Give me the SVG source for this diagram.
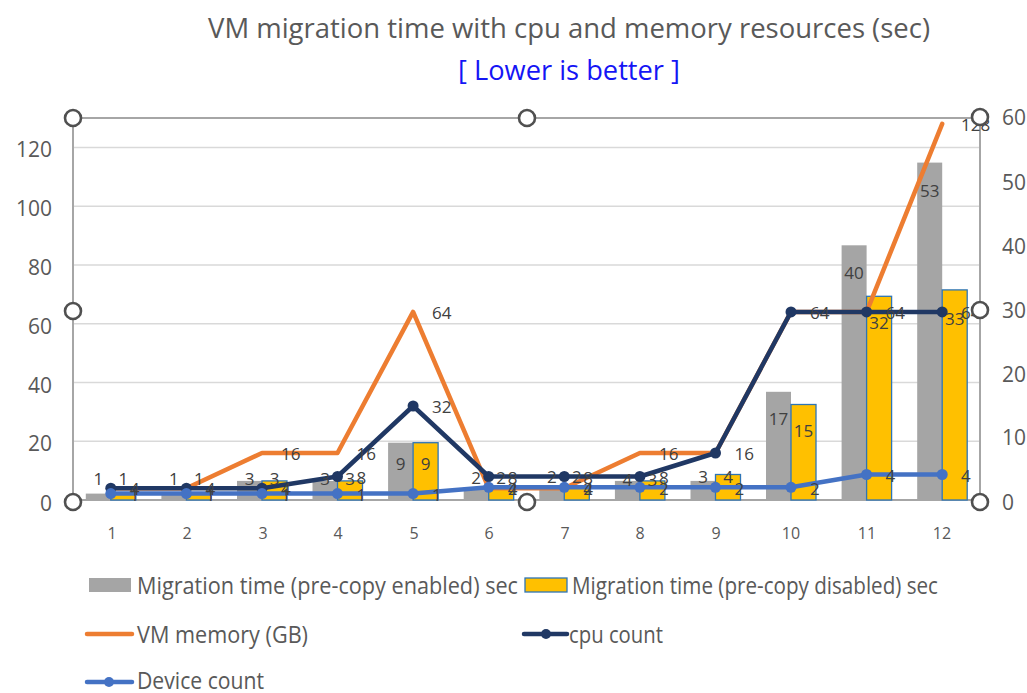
<svg xmlns="http://www.w3.org/2000/svg" width="1027" height="693" viewBox="0 0 1027 693">
  <style>
    .t { font-family: "Open Sans", "Liberation Sans", sans-serif; }
    .title { font-size: 28px; fill: #595959; }
    .sub { font-size: 28px; fill: #1515F5; }
    .tick { font-size: 21px; fill: #595959; }
    .xtick { font-size: 16px; fill: #595959; }
    .lbl { font-size: 17px; fill: #404040; dominant-baseline: central; text-anchor: middle; }
    .lbs { font-size: 17px; fill: #404040; dominant-baseline: central; }
    .leg { font-size: 23px; fill: #595959; dominant-baseline: central; }
    .grid { stroke: #D9D9D9; stroke-width: 1.5; }
    .axis { stroke: #A6A6A6; stroke-width: 2; fill: none; }
    .gbar { fill: #A5A5A5; }
    .ybar { fill: #FFC000; stroke: #2E75B6; stroke-width: 1.3; }
    .mem { fill: none; stroke: #ED7D31; stroke-width: 4.5; stroke-linejoin: round; stroke-linecap: round; }
    .cpu { fill: none; stroke: #203864; stroke-width: 4.5; stroke-linejoin: round; stroke-linecap: round; }
    .dev { fill: none; stroke: #4472C4; stroke-width: 4.5; stroke-linejoin: round; stroke-linecap: round; }
    .cpuM { fill: #203864; }
    .devM { fill: #4472C4; }
    .handle { fill: #FFFFFF; stroke: #505050; stroke-width: 2.6; }
  </style>

  <!-- titles -->
  <g id="title">
    <text class="t title" x="208" y="38" textLength="722" lengthAdjust="spacingAndGlyphs">VM migration time with cpu and memory resources (sec)</text>
    <text class="t sub" x="458" y="80" textLength="222" lengthAdjust="spacingAndGlyphs">[ Lower is better ]</text>
  </g>

  <!-- plot frame and gridlines -->
  <g id="plot-area">
    <line class="grid" x1="73" y1="441.2" x2="980" y2="441.2"/>
    <line class="grid" x1="73" y1="382.5" x2="980" y2="382.5"/>
    <line class="grid" x1="73" y1="323.7" x2="980" y2="323.7"/>
    <line class="grid" x1="73" y1="264.9" x2="980" y2="264.9"/>
    <line class="grid" x1="73" y1="206.2" x2="980" y2="206.2"/>
    <line class="grid" x1="73" y1="147.4" x2="980" y2="147.4"/>
    <line class="axis" x1="73" y1="118" x2="980" y2="118"/>
    <line class="axis" x1="73" y1="118" x2="73" y2="501"/>
    <line class="axis" x1="980" y1="118" x2="980" y2="501"/>
    <line class="axis" x1="73" y1="500" x2="980" y2="500"/>
  </g>

  <!-- left axis ticks -->
  <g id="left-axis" class="t tick" text-anchor="end" dominant-baseline="central">
    <text x="52" y="503">0</text>
    <text x="52" y="443">20</text>
    <text x="52" y="385">40</text>
    <text x="52" y="326">60</text>
    <text x="52" y="267">80</text>
    <text x="52" y="208">100</text>
    <text x="52" y="149">120</text>
  </g>

  <!-- right axis ticks -->
  <g id="right-axis" class="t tick" dominant-baseline="central">
    <text x="1002" y="502">0</text>
    <text x="1002" y="437">10</text>
    <text x="1002" y="374">20</text>
    <text x="1002" y="310">30</text>
    <text x="1002" y="246">40</text>
    <text x="1002" y="182">50</text>
    <text x="1002" y="117">60</text>
  </g>

  <!-- category axis -->
  <g id="category-axis" class="t xtick" text-anchor="middle">
    <text x="112" y="539">1</text>
    <text x="187" y="539">2</text>
    <text x="263" y="539">3</text>
    <text x="338" y="539">4</text>
    <text x="414" y="539">5</text>
    <text x="489" y="539">6</text>
    <text x="565" y="539">7</text>
    <text x="640" y="539">8</text>
    <text x="716" y="539">9</text>
    <text x="791" y="539">10</text>
    <text x="867" y="539">11</text>
    <text x="942" y="539">12</text>
  </g>

  <!-- Migration time (pre-copy enabled) -->
  <g id="bars-enabled" class="gbar">
    <rect x="85.8" y="493.6" width="25" height="6.4"/>
    <rect x="161.4" y="493.6" width="25" height="6.4"/>
    <rect x="237.0" y="480.9" width="25" height="19.1"/>
    <rect x="312.5" y="480.9" width="25" height="19.1"/>
    <rect x="388.1" y="442.7" width="25" height="57.3"/>
    <rect x="463.7" y="487.3" width="25" height="12.7"/>
    <rect x="539.3" y="487.3" width="25" height="12.7"/>
    <rect x="614.9" y="480.9" width="25" height="19.1"/>
    <rect x="690.5" y="480.9" width="25" height="19.1"/>
    <rect x="766.0" y="391.8" width="25" height="108.2"/>
    <rect x="841.6" y="245.3" width="25" height="254.7"/>
    <rect x="917.2" y="162.6" width="25" height="337.4"/>
  </g>

  <!-- Migration time (pre-copy disabled) -->
  <g id="bars-disabled" class="ybar">
    <rect x="110.8" y="493.6" width="25" height="6.4"/>
    <rect x="186.4" y="493.6" width="25" height="6.4"/>
    <rect x="262.0" y="480.9" width="25" height="19.1"/>
    <rect x="337.5" y="480.9" width="25" height="19.1"/>
    <rect x="413.1" y="442.7" width="25" height="57.3"/>
    <rect x="488.7" y="487.3" width="25" height="12.7"/>
    <rect x="564.3" y="487.3" width="25" height="12.7"/>
    <rect x="639.9" y="480.9" width="25" height="19.1"/>
    <rect x="715.5" y="474.5" width="25" height="25.5"/>
    <rect x="791.0" y="404.5" width="25" height="95.5"/>
    <rect x="866.6" y="296.3" width="25" height="203.7"/>
    <rect x="942.2" y="289.9" width="25" height="210.1"/>
  </g>

  <!-- line series -->
  <g id="connectors">
    <polyline id="vm-memory" class="mem" points="110.8,488.2 186.4,488.2 262.0,453.0 337.5,453.0 413.1,311.9 488.7,488.2 564.3,488.2 639.9,453.0 715.5,453.0 791.0,311.9 866.6,311.9 942.2,123.9"/>
    <polyline id="cpu-count" class="cpu" points="110.8,488.2 186.4,488.2 262.0,488.2 337.5,476.5 413.1,406.0 488.7,476.5 564.3,476.5 639.9,476.5 715.5,453.0 791.0,311.9 866.6,311.9 942.2,311.9"/>
    <g class="cpuM">
      <circle cx="110.8" cy="488.2" r="5.5"/>
      <circle cx="186.4" cy="488.2" r="5.5"/>
      <circle cx="262.0" cy="488.2" r="5.5"/>
      <circle cx="337.5" cy="476.5" r="5.5"/>
      <circle cx="413.1" cy="406.0" r="5.5"/>
      <circle cx="488.7" cy="476.5" r="5.5"/>
      <circle cx="564.3" cy="476.5" r="5.5"/>
      <circle cx="639.9" cy="476.5" r="5.5"/>
      <circle cx="715.5" cy="453.0" r="5.5"/>
      <circle cx="791.0" cy="311.9" r="5.5"/>
      <circle cx="866.6" cy="311.9" r="5.5"/>
      <circle cx="942.2" cy="311.9" r="5.5"/>
    </g>
    <polyline id="device-count" class="dev" points="110.8,493.6 186.4,493.6 262.0,493.6 337.5,493.6 413.1,493.6 488.7,487.3 564.3,487.3 639.9,487.3 715.5,487.3 791.0,487.3 866.6,474.5 942.2,474.5"/>
    <g class="devM">
      <circle cx="110.8" cy="493.6" r="5.5"/>
      <circle cx="186.4" cy="493.6" r="5.5"/>
      <circle cx="262.0" cy="493.6" r="5.5"/>
      <circle cx="337.5" cy="493.6" r="5.5"/>
      <circle cx="413.1" cy="493.6" r="5.5"/>
      <circle cx="488.7" cy="487.3" r="5.5"/>
      <circle cx="564.3" cy="487.3" r="5.5"/>
      <circle cx="639.9" cy="487.3" r="5.5"/>
      <circle cx="715.5" cy="487.3" r="5.5"/>
      <circle cx="791.0" cy="487.3" r="5.5"/>
      <circle cx="866.6" cy="474.5" r="5.5"/>
      <circle cx="942.2" cy="474.5" r="5.5"/>
    </g>
  </g>

  <!-- data labels: bars -->
  <g id="labels-enabled" class="t lbl">
    <text x="98.3" y="478">1</text>
    <text x="173.9" y="478">1</text>
    <text x="249.5" y="478">3</text>
    <text x="325" y="478">3</text>
    <text x="400.6" y="463">9</text>
    <text x="476.2" y="477">2</text>
    <text x="551.8" y="476">2</text>
    <text x="627.4" y="479">4</text>
    <text x="703" y="476">3</text>
    <text x="778.5" y="418">17</text>
    <text x="854.1" y="272">40</text>
    <text x="929.7" y="190">53</text>
  </g>
  <g id="labels-disabled" class="t lbl">
    <text x="123.3" y="478">1</text>
    <text x="198.9" y="478">1</text>
    <text x="274.5" y="478">3</text>
    <text x="350" y="478">3</text>
    <text x="425.6" y="463">9</text>
    <text x="501.2" y="477">2</text>
    <text x="576.8" y="476">2</text>
    <text x="652.4" y="479">3</text>
    <text x="728" y="476">4</text>
    <text x="803.5" y="430">15</text>
    <text x="879.1" y="322">32</text>
    <text x="954.7" y="318">33</text>
  </g>

  <!-- data labels: lines -->
  <g id="labels-memory" class="t lbs">
    <text x="281" y="453">16</text>
    <text x="356.5" y="453">16</text>
    <text x="432" y="312">64</text>
    <text x="507.7" y="488">4</text>
    <text x="583.3" y="488">4</text>
    <text x="659" y="453">16</text>
    <text x="734.5" y="453">16</text>
    <text x="810" y="312">64</text>
    <text x="885.6" y="312">64</text>
    <text x="961" y="124">128</text>
  </g>
  <g id="labels-cpu" class="t lbs">
    <text x="129.8" y="488">4</text>
    <text x="205.4" y="488">4</text>
    <text x="281" y="488">4</text>
    <text x="356.5" y="477">8</text>
    <text x="432" y="406">32</text>
    <text x="507.7" y="477">8</text>
    <text x="583.3" y="477">8</text>
    <text x="658.9" y="477">8</text>
    <text x="961" y="312">64</text>
  </g>
  <g id="labels-device" class="t lbs">
    <text x="129.8" y="494">1</text>
    <text x="205.4" y="494">1</text>
    <text x="281" y="494">1</text>
    <text x="356.5" y="494">1</text>
    <text x="432" y="494">1</text>
    <text x="507.7" y="488">2</text>
    <text x="583.3" y="488">2</text>
    <text x="658.9" y="488">2</text>
    <text x="734.5" y="488">2</text>
    <text x="810" y="488">2</text>
    <text x="885.6" y="475">4</text>
    <text x="961" y="475">4</text>
  </g>

  <!-- plot-area selection handles -->
  <g id="handles" class="handle">
    <circle cx="73" cy="118" r="8"/>
    <circle cx="527" cy="118" r="8"/>
    <circle cx="980" cy="117" r="8"/>
    <circle cx="73" cy="311" r="8"/>
    <circle cx="980" cy="310" r="8"/>
    <circle cx="73" cy="502" r="8"/>
    <circle cx="527" cy="502" r="8"/>
    <circle cx="980" cy="502" r="8"/>
  </g>

  <!-- legend -->
  <g id="legend">
    <rect class="gbar" x="89" y="578" width="42" height="14"/>
    <text class="t leg" x="137" y="585" textLength="381" lengthAdjust="spacingAndGlyphs">Migration time (pre-copy enabled) sec</text>
    <rect class="ybar" x="525" y="578" width="42" height="14"/>
    <text class="t leg" x="572" y="585" textLength="366" lengthAdjust="spacingAndGlyphs">Migration time (pre-copy disabled) sec</text>
    <line class="mem" x1="87" y1="634" x2="132" y2="634" stroke-linecap="butt"/>
    <text class="t leg" x="137" y="634" textLength="171" lengthAdjust="spacingAndGlyphs">VM memory (GB)</text>
    <line class="cpu" x1="524" y1="634" x2="567" y2="634" stroke-linecap="butt"/>
    <circle class="cpuM" cx="546" cy="634" r="5"/>
    <text class="t leg" x="569" y="634" textLength="94" lengthAdjust="spacingAndGlyphs">cpu count</text>
    <line class="dev" x1="87" y1="682" x2="132" y2="682" stroke-linecap="butt"/>
    <circle class="devM" cx="109" cy="682" r="5"/>
    <text class="t leg" x="137" y="680" textLength="127" lengthAdjust="spacingAndGlyphs">Device count</text>
  </g>
</svg>
